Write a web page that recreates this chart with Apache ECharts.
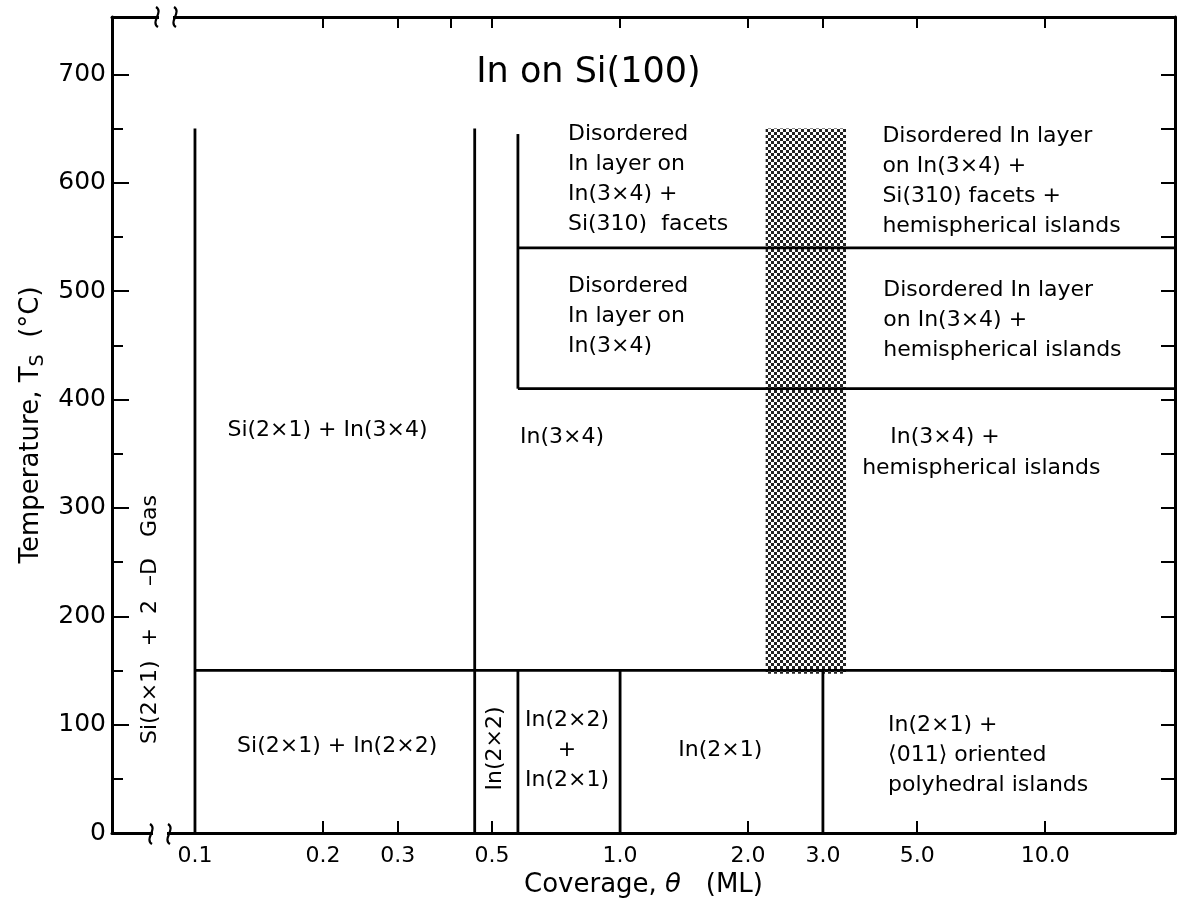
<!DOCTYPE html>
<html>
<head>
<meta charset="utf-8">
<script src="https://cdn.jsdelivr.net/npm/echarts@6/dist/echarts.min.js"></script>
<style>
  html, body { margin: 0; padding: 0; background: #fff; }
  #chart { width: 1177px; height: 910px; }
</style>
</head>
<body>
<div id="chart"></div>
<script>
// axis extents (coverage in ML, log scale; temperature in degC)
const X_MIN = 0.0638, X_MAX = 20.2;
const Y_MIN = 0, Y_MAX = 753;

const xTickValues = [0.1, 0.2, 0.3, 0.5, 1, 2, 3, 5, 10];
const xTickLabels = ['0.1', '0.2', '0.3', '0.5', '1.0', '2.0', '3.0', '5.0', '10.0'];
const xBottomTicks = [0.2, 0.3, 0.5, 2, 5, 10];
const xTopTicks = [0.2, 0.3, 0.4, 0.5, 1, 2, 3, 5, 10];
const yMajorTicks = [0, 100, 200, 300, 400, 500, 600, 700];
const yMinorTicks = [50, 150, 250, 350, 450, 550, 650];

// phase boundaries: [coverage, T from, T to]
const verticalBounds = [
  [0.1, 0, 650], [0.455, 0, 650], [0.575, 0, 150], [0.575, 410, 645], [1.0, 0, 150], [3.0, 0, 150]
];
// [T, coverage from, coverage to]
const horizontalBounds = [
  [150, 0.1, X_MAX], [540, 0.575, X_MAX], [410, 0.575, X_MAX]
];
// shaded transition band: [coverage from, coverage to, T from, T to]
const islandBand = [[2.2, 3.4, 147, 650]];

// region names and where they sit [coverage, T]
const regionNames = [
  'Disordered\nIn layer on\nIn(3×4) +\nSi(310)  facets',
  'Disordered In layer\non In(3×4) +\nSi(310) facets +\nhemispherical islands',
  'Disordered\nIn layer on\nIn(3×4)',
  'Disordered In layer\non In(3×4) +\nhemispherical islands',
  'Si(2×1) + In(3×4)',
  'In(3×4)',
  'In(3×4) +',
  'hemispherical islands',
  'Si(2×1) + In(2×2)',
  'In(2×2)',
  'In(2×2)\n+\nIn(2×1)',
  'In(2×1)',
  'In(2×1) +\n⟨011⟩ oriented\npolyhedral islands',
  'Si(2×1)  +  2  –D   Gas'
];
const regionAnchors = [
  [0.754, 603], [4.14, 601], [0.754, 477], [4.16, 473], [0.205, 372], [0.73, 365],
  [4.32, 365], [3.71, 337], [0.216, 80], [0.508, 78], [0.75, 76], [1.72, 76], [4.27, 72],
  [0.0784, 197]
];
const regionAlign = ['left', 'left', 'left', 'left', 'center', 'center',
  'left', 'left', 'center', 'center', 'center', 'center', 'left', 'center'];
const regionRotate = [0, 0, 0, 0, 0, 0, 0, 0, 0, 90, 0, 0, 0, 90];

const FONT = 'DejaVu Sans';
const INK = '#000';

// halftone fill for the band
const pat = document.createElement('canvas');
pat.width = 6; pat.height = 6;
const pctx = pat.getContext('2d');
pctx.fillStyle = '#fff'; pctx.fillRect(0, 0, 6, 6);
pctx.fillStyle = '#222'; pctx.fillRect(0, 0, 3, 3); pctx.fillRect(3, 3, 3, 3);

const segments = verticalBounds.map(([c, t0, t1]) => [c, t0, c, t1])
  .concat(horizontalBounds.map(([t, c0, c1]) => [c0, t, c1, t]));

const xLabelMap = {};
xTickValues.forEach((v, i) => { xLabelMap[v] = xTickLabels[i]; });

// axis break squiggle
function squiggle(x, y) {
  return {
    type: 'bezierCurve', z: 101,
    shape: { x1: x - 1, y1: y - 10, cpx1: x + 7, cpy1: y - 5, cpx2: x - 7, cpy2: y + 5, x2: x + 1, y2: y + 10 },
    style: { stroke: INK, lineWidth: 2.2, fill: null }
  };
}

const chart = echarts.init(document.getElementById('chart'));
const baseX = { type: 'log', logBase: 10, min: X_MIN, max: X_MAX, splitLine: { show: false } };
const baseY = { type: 'value', min: Y_MIN, max: Y_MAX, splitLine: { show: false } };
const frame = { onZero: false, lineStyle: { color: INK, width: 3 } };

chart.setOption({
  animation: false,
  backgroundColor: '#fff',
  title: {
    text: 'In on Si(100)', left: 'center', top: 50,
    textStyle: { fontFamily: FONT, fontSize: 35, fontWeight: 'normal', color: INK }
  },
  grid: { left: 112, right: 2, top: 17, bottom: 77 },
  xAxis: [
    Object.assign({}, baseX, {
      position: 'bottom',
      axisLine: frame,
      axisTick: { inside: true, length: 12, lineStyle: { color: INK, width: 2 }, customValues: xBottomTicks },
      axisLabel: {
        customValues: xTickValues, margin: 12,
        fontFamily: FONT, fontSize: 22, color: INK,
        formatter: v => xLabelMap[v] !== undefined ? xLabelMap[v] : ''
      },
      name: 'Coverage, {i|θ}   (ML)', nameLocation: 'middle', nameGap: 37,
      nameTextStyle: {
        fontFamily: FONT, fontSize: 26, color: INK,
        rich: { i: { fontFamily: FONT, fontSize: 26, fontStyle: 'italic', color: INK } }
      }
    }),
    Object.assign({}, baseX, {
      position: 'top',
      axisLine: frame,
      axisTick: { inside: true, length: 11, lineStyle: { color: INK, width: 2 }, customValues: xTopTicks },
      axisLabel: { show: false }
    })
  ],
  yAxis: [
    Object.assign({}, baseY, {
      position: 'left',
      axisLine: frame,
      axisTick: { inside: true, length: 17, lineStyle: { color: INK, width: 2 }, customValues: yMajorTicks },
      axisLabel: { customValues: yMajorTicks, fontFamily: FONT, fontSize: 25, color: INK, margin: 6 },
      name: 'Temperature, T{s|S}  (°C)', nameLocation: 'middle', nameGap: 62, nameRotate: 90,
      nameTextStyle: {
        fontFamily: FONT, fontSize: 26, color: INK,
        rich: { s: { fontFamily: FONT, fontSize: 19, color: INK, verticalAlign: 'bottom', padding: [14, 0, 0, 0] } }
      }
    }),
    Object.assign({}, baseY, {
      position: 'left',
      axisLine: { show: false },
      axisTick: { inside: true, length: 11, lineStyle: { color: INK, width: 2 }, customValues: yMinorTicks },
      axisLabel: { show: false }
    }),
    Object.assign({}, baseY, {
      position: 'right',
      axisLine: frame,
      axisTick: { inside: true, length: 14, lineStyle: { color: INK, width: 2 }, customValues: yMajorTicks.concat(yMinorTicks) },
      axisLabel: { show: false }
    })
  ],
  graphic: [
    { type: 'rect', shape: { x: 159, y: 12, width: 14, height: 10 }, style: { fill: '#fff' }, z: 100 },
    squiggle(157, 17), squiggle(175, 17),
    { type: 'rect', shape: { x: 153, y: 828, width: 14, height: 10 }, style: { fill: '#fff' }, z: 100 },
    squiggle(151, 834), squiggle(169, 834)
  ],
  series: [
    {
      type: 'custom',
      name: 'band',
      data: islandBand,
      encode: { x: [0, 1], y: [2, 3] },
      renderItem: (params, api) => {
        const a = api.coord([api.value(0), api.value(3)]);
        const b = api.coord([api.value(1), api.value(2)]);
        return {
          type: 'rect',
          shape: { x: a[0], y: a[1], width: b[0] - a[0], height: b[1] - a[1] },
          style: { fill: { image: pat, repeat: 'repeat' } }
        };
      },
      z: 1
    },
    {
      type: 'custom',
      name: 'boundaries',
      data: segments,
      encode: { x: [0, 2], y: [1, 3] },
      renderItem: (params, api) => {
        const p1 = api.coord([api.value(0), api.value(1)]);
        const p2 = api.coord([api.value(2), api.value(3)]);
        return {
          type: 'line',
          shape: { x1: p1[0], y1: p1[1], x2: p2[0], y2: p2[1] },
          style: { stroke: INK, lineWidth: 2.8 }
        };
      },
      z: 2
    },
    {
      type: 'scatter',
      name: 'regions',
      symbolSize: 0,
      silent: true,
      itemStyle: { color: INK, opacity: 1 },
      label: {
        show: true, position: 'inside',
        formatter: p => regionNames[p.dataIndex],
        verticalAlign: 'middle',
        fontFamily: FONT, fontSize: 22, lineHeight: 30,
        color: '#000', opacity: 1, textBorderWidth: 0
      },
      data: regionAnchors.map((a, i) => ({
        value: a,
        label: { align: regionAlign[i], rotate: regionRotate[i] }
      })),
      z: 3
    }
  ]
});
</script>
</body>
</html>
